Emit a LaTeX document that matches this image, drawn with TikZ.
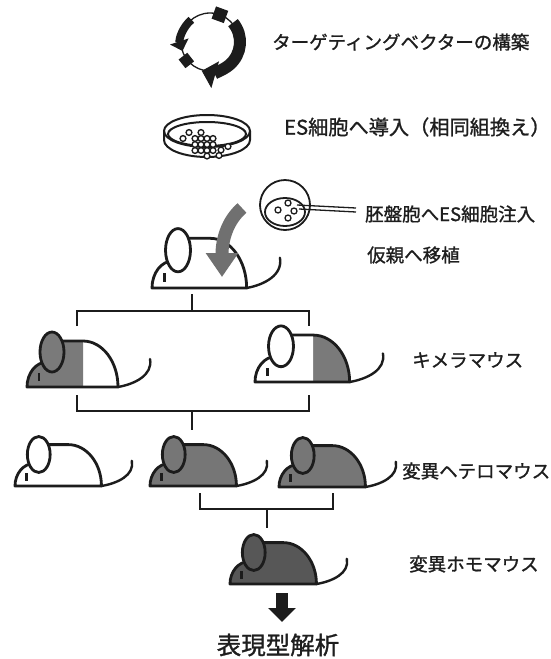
\documentclass[tikz,border=0pt]{standalone}
\usepackage{fontspec}
\setmainfont{Noto Sans CJK JP}
\newfontfamily\jpfont{Noto Sans CJK JP}[FakeBold=1.2]
\usetikzlibrary{arrows.meta}
\definecolor{ink}{HTML}{1C1C1C}
\definecolor{txt}{HTML}{1E1E1E}
\definecolor{chim}{HTML}{7A7A7A}
\definecolor{het}{HTML}{767676}
\definecolor{hom}{HTML}{575757}
\definecolor{arrowgray}{HTML}{707070}

% outline of a mouse body, local units, y pointing up, origin at the nose bottom
\newcommand\mousebody[1]{\path[#1] (0,0) -- (91,0)
  arc[start angle=0,end angle=90,x radius=35,y radius=46] -- (25,46) -- (20,25)
  arc[start angle=90,end angle=180,x radius=20,y radius=25] -- cycle;}

\tikzset{
  pics/mouse/.style n args={2}{code={
    \mousebody{fill=#2}
    \begin{scope}
      \clip (-4,-4) rectangle (56,60);
      \mousebody{fill=#1}
    \end{scope}
    \mousebody{draw=ink, line width=2.8pt, line join=round}
    \draw[ink, line width=2.8pt, fill=#1] (25,35) ellipse[x radius=12, y radius=20];
    \draw[ink, line width=2.4pt] (12,6) -- (12,14);
    \draw[ink, line width=2.4pt, line cap=round] (91,0) .. controls (108,3) and (126,12) .. (123,28);
  }},
  lbl/.style={anchor=west, inner sep=0pt, text=txt, font=\jpfont\fontsize{18.5}{22}\selectfont},
  bracket/.style={draw=ink, line width=2.4pt},
  cell/.style={draw=ink, line width=1.4pt, fill=white},
  dish/.style={draw=ink, line width=2pt},
  sq/.style={fill=ink, inner sep=0pt, minimum size=#1},
}

\begin{document}
\begin{tikzpicture}[x=1pt, y=-1pt]
\useasboundingbox (0,0) rectangle (550,659);
\fill[white] (0,0) rectangle (550,659);

% ---- targeting vector
\begin{scope}[shift={(210,42)}, yscale=-1]
  \draw[ink, line width=1.3pt] (0,0) circle[radius=29];
  \draw[ink, line width=8pt, -{Triangle[length=10pt,width=19pt]}]
    (130:29) arc[start angle=130, end angle=198, radius=29];
  \draw[ink, line width=12pt, -{Triangle[length=14pt,width=27pt]}]
    (40:30) arc[start angle=40, end angle=-106, radius=30];
  \node[sq=13pt, rotate=-20] (sqA) at (70:29) {};
  \node[sq=11pt, rotate=38] (sqB) at (218:30) {};
\end{scope}

% ---- culture dish with ES cells
\draw[dish] (164,131) -- (164,140) arc[start angle=180, end angle=0, x radius=43, y radius=17] -- (250,131);
\draw[dish] (207,131) ellipse[x radius=43, y radius=16];
\draw[dish] (207,134) ellipse[x radius=39, y radius=12];
\foreach \cx/\cy in {189/132.5, 201/132.5,
    183/138.5, 195/138.5, 201/138.5, 207/138.5, 213/138.5,
    195/144.5, 201/144.5, 207/144.5, 213/144.5,
    195/150.5, 201/150.5, 207/150.5, 213/150.5, 221/150, 228/146.5,
    207/156, 219/155.5}
  \draw[cell] (\cx,\cy) circle[radius=2.9];

% ---- blastocyst and injection pipette
\draw[ink, line width=1.8pt, fill=white] (285,205) circle[radius=25];
\draw[ink, line width=1.8pt] (285,212) ellipse[x radius=20, y radius=14];
\foreach \cx/\cy in {288/203, 278/210, 294/211, 288/218}
  \draw[ink, line width=1.3pt] (\cx,\cy) circle[radius=3];
\coordinate (pipA0) at (297,205);
\coordinate (pipA1) at (356,208);
\coordinate (pipB0) at (299,209);
\coordinate (pipB1) at (356,212);
\draw[ink, line width=1.3pt] (pipA0) -- (pipA1);
\draw[ink, line width=1.3pt] (pipB0) -- (pipB1);

% ---- mice
\pic[shift={(152,288)}, xscale=1.04, yscale=-1.08] (mT) {mouse={white}{white}};
\pic[shift={(27,387)}, xscale=1.0, yscale=-1.0] (mC1) {mouse={chim}{white}};
\pic[shift={(255,382)}, xscale=1.04, yscale=-1.02] (mC2) {mouse={white}{chim}};
\pic[shift={(15,486)}, xscale=0.95, yscale=-0.9] (mW) {mouse={white}{white}};
\pic[shift={(150,486)}, xscale=0.95, yscale=-0.9] (mH1) {mouse={het}{het}};
\pic[shift={(279,487)}, xscale=0.95, yscale=-0.9] (mH2) {mouse={het}{het}};
\pic[shift={(230,584)}, xscale=0.95, yscale=-0.9] (mHo) {mouse={hom}{hom}};

% ---- transfer arrow into the foster mother
\coordinate (ga0) at (242,208);
\coordinate (ga1) at (222,277);
\draw[arrowgray, line width=13pt, -{Triangle[length=24pt,width=31pt]}]
  (ga0) .. controls (227,221) and (222,240) .. (ga1);

% ---- pedigree brackets
\coordinate (t1) at (192,294);
\coordinate (j1) at (192,311);
\coordinate (kL1) at (77,326);
\coordinate (kR1) at (309,326);
\draw[bracket] (kL1) |- (j1) -| (kR1);
\draw[bracket] (t1) -- (j1);

\coordinate (kL2) at (77,395);
\coordinate (kR2) at (309,395);
\coordinate (j2) at (192,411);
\coordinate (b2) at (192,430);
\draw[bracket] (kL2) |- (j2) -| (kR2);
\draw[bracket] (j2) -- (b2);

\coordinate (kL3) at (200,493);
\coordinate (kR3) at (333,493);
\coordinate (j3) at (267,509);
\coordinate (b3) at (267,528);
\draw[bracket] (kL3) |- (j3) -| (kR3);
\draw[bracket] (j3) -- (b3);

% ---- labels
\node[lbl] (l1) at (272,42) {ターゲティングベクターの構築};
\node[lbl, font=\jpfont\fontsize{20.2}{24}\selectfont] (l2) at (284,127) {ES細胞へ導入（相同組換え）};
\node[lbl] (l3) at (365,214) {胚盤胞へES細胞注入};
\node[lbl] (l4) at (367,255) {仮親へ移植};
\node[lbl] (l5) at (412,360) {キメラマウス};
\node[lbl] (l6) at (402,471) {変異ヘテロマウス};
\node[lbl] (l7) at (409,564) {変異ホモマウス};
\node[inner sep=0pt, text=txt, font=\jpfont\fontsize{24.5}{28}\selectfont] (l8) at (278,645) {表現型解析};

% ---- phenotype analysis arrow
\coordinate (ba0) at (282,593);
\coordinate (ba1) at (282,622);
\draw[ink, line width=12pt, -{Triangle[length=14pt,width=27pt]}] (ba0) -- (ba1);
\end{tikzpicture}
\end{document}
